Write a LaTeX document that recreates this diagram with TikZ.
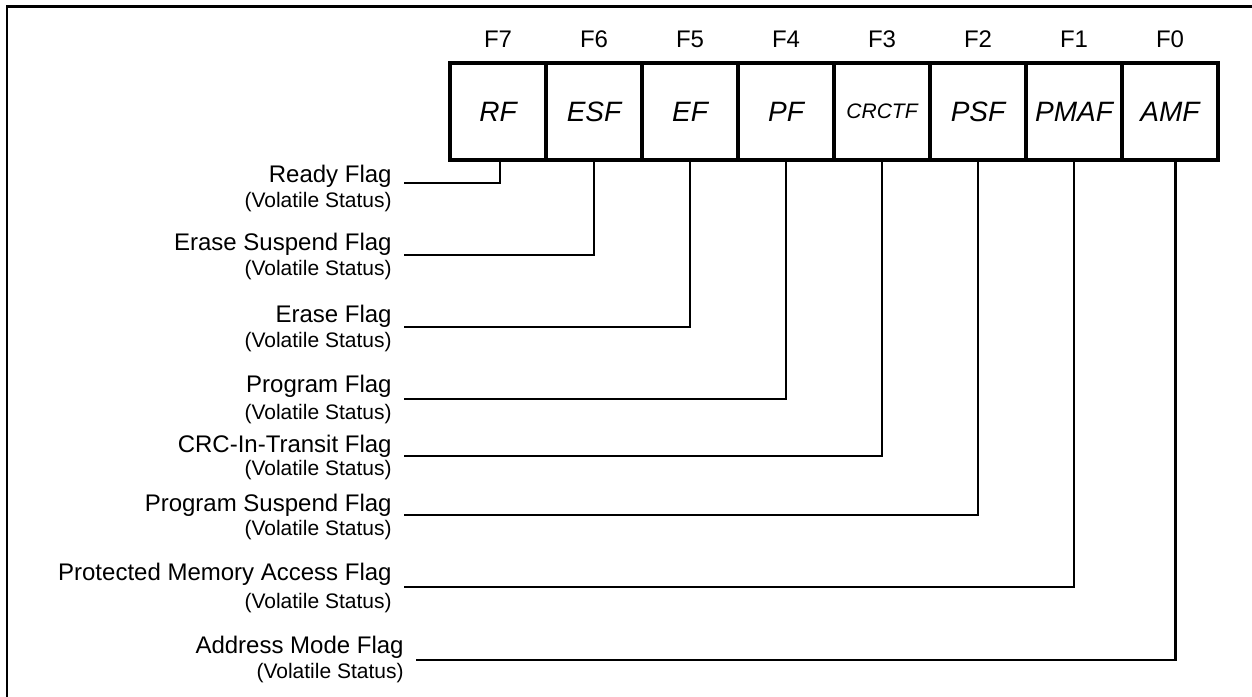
\documentclass[tikz,border=0pt]{standalone}
\usepackage{fontspec}
\setmainfont{Liberation Sans}
\begin{document}
\begin{tikzpicture}[x=0.5pt,y=-0.5pt,
  cell/.style={draw, line width=2.4pt, minimum width=48pt, minimum height=48.5pt, inner sep=0pt, font=\fontsize{14}{16}\selectfont\itshape},
  smallcell/.style={cell, font=\fontsize{10.5}{12}\selectfont\itshape},
  hdr/.style={anchor=base, inner sep=0pt, font=\fontsize{12}{14}\selectfont},
  lab/.style={anchor=base east, inner sep=0pt, font=\fontsize{12}{14}\selectfont},
  sub/.style={anchor=base east, inner sep=0pt, font=\fontsize{10.5}{12}\selectfont},
  conn/.style={line width=1.4pt},
  frame/.style={line width=1.4pt}]
\useasboundingbox (0,0) rectangle (1252,696);
\draw[frame] (7,700) -- (7,6.3) -- (1256,6.3);

% register cells
\node[cell] (c7) at (498,111.5) {RF};
\node[cell] (c6) at (594,111.5) {ESF};
\node[cell] (c5) at (690,111.5) {EF};
\node[cell] (c4) at (786,111.5) {PF};
\node[smallcell] (c3) at (882,111.5) {CRCTF};
\node[cell] (c2) at (978,111.5) {PSF};
\node[cell] (c1) at (1074,111.5) {PMAF};
\node[cell] (c0) at (1170,111.5) {AMF};

% bit headers
\node[hdr] (h7) at (498,47) {F7};
\node[hdr] (h6) at (594,47) {F6};
\node[hdr] (h5) at (690,47) {F5};
\node[hdr] (h4) at (786,47) {F4};
\node[hdr] (h3) at (882,47) {F3};
\node[hdr] (h2) at (978,47) {F2};
\node[hdr] (h1) at (1074,47) {F1};
\node[hdr] (h0) at (1170,47) {F0};

% labels
\node[lab] (t7) at (392,182) {Ready Flag};
\node[sub] (s7) at (392,207) {(Volatile Status)};
\node[lab] (t6) at (392,250) {Erase Suspend Flag};
\node[sub] (s6) at (392,275) {(Volatile Status)};
\node[lab] (t5) at (392,322) {Erase Flag};
\node[sub] (s5) at (392,347) {(Volatile Status)};
\node[lab] (t4) at (392,392) {Program Flag};
\node[sub] (s4) at (392,419) {(Volatile Status)};
\node[lab] (t3) at (392,452) {CRC-In-Transit Flag};
\node[sub] (s3) at (392,475) {(Volatile Status)};
\node[lab] (t2) at (392,511) {Program Suspend Flag};
\node[sub] (s2) at (392,535) {(Volatile Status)};
\node[lab] (t1) at (392,580) {Protected Memory Access Flag};
\node[sub] (s1) at (392,608) {(Volatile Status)};
\node[lab] (t0) at (404,653) {Address Mode Flag};
\node[sub] (s0) at (404,678) {(Volatile Status)};

% connector ends
\coordinate (e7) at (404,183);
\coordinate (e6) at (404,255);
\coordinate (e5) at (404,327);
\coordinate (e4) at (404,399);
\coordinate (e3) at (404,456);
\coordinate (e2) at (404,515);
\coordinate (e1) at (404,587);
\coordinate (e0) at (416,660);

\draw[conn] (e7) -| ([xshift=1pt]c7.south);
\draw[conn] (e6) -| (c6.south);
\draw[conn] (e5) -| (c5.south);
\draw[conn] (e4) -| (c4.south);
\draw[conn] (e3) -| (c3.south);
\draw[conn] (e2) -| (c2.south);
\draw[conn] (e1) -| (c1.south);
\draw[conn] (e0) -| ([xshift=2.75pt]c0.south);
\end{tikzpicture}
\end{document}
